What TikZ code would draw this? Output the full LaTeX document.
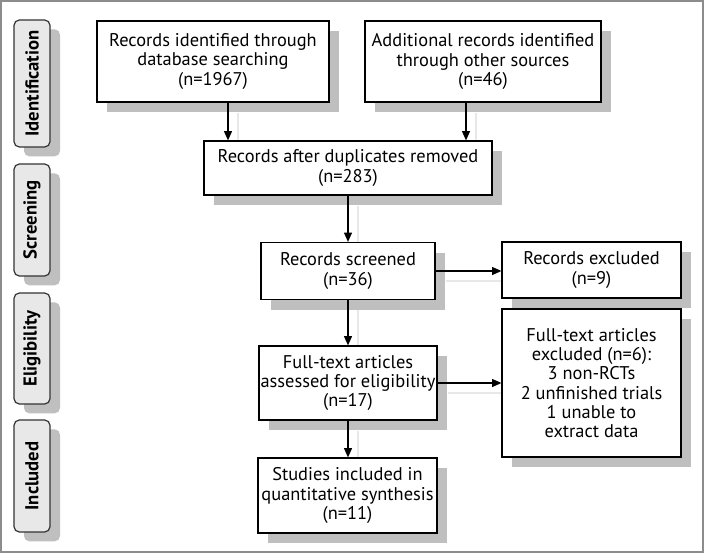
\documentclass[tikz,border=0pt]{standalone}
\usepackage{fontspec}
\setsansfont{PT Sans}
\usetikzlibrary{arrows.meta, shadows, calc}

\pgfdeclarelayer{background}
\pgfsetlayers{background,main}

\tikzset{
	box/.style={draw, fill=white, line width=0.9pt, align=center, inner sep=0pt,
		font=\sffamily\fontsize{13.8}{14.4}\selectfont,
		drop shadow={shadow xshift=7.5pt, shadow yshift=-7.5pt, fill=black!25, opacity=1}},
	phase/.style={draw=black!80, fill=black!9, rounded corners=4pt, line width=0.9pt,
		inner sep=0pt, minimum width=27pt, font=\sffamily\bfseries\fontsize{14}{15}\selectfont,
		drop shadow={shadow xshift=7.5pt, shadow yshift=-7pt, fill=black!25, opacity=1}},
	arr/.style={line width=0.9pt, -{Triangle[length=7pt, width=6pt]}},
	arrshadow/.style={arr, draw=black!9, fill=black!9},
}

% all connectors, drawn once as shadow and once in black
\newcommand{\flowlinks}[1]{
	\draw[#1] (dbout) -- (dbout |- dup.north);
	\draw[#1] (otherout) -- (otherout |- dup.north);
	\draw[#1] (dup.south) -- (screen.north);
	\draw[#1] (screen.east) -- (screen.east -| excl.west);
	\draw[#1] (screen.south) -- (full.north);
	\draw[#1] (full.east) -- (full.east -| fullexcl.west);
	\draw[#1] (full.south) -- (full.south |- incl.north);
}

\begin{document}
\begin{tikzpicture}[x=0.75pt, y=-0.75pt]

	\useasboundingbox (0,0) rectangle (704,553);
	\draw[black!45, line width=0.9pt] (1,1) rectangle (703,552);

	% phases on the left
	\node[phase, minimum height=95.25pt] (ident) at (32,83.5) {\rotatebox{90}{Identification}};
	\node[phase, minimum height=84pt] (screening) at (32,220) {\rotatebox{90}{Screening}};
	\node[phase, minimum height=83.25pt] (elig) at (32,348.5) {\rotatebox{90}{Eligibility}};
	\node[phase, minimum height=84pt] (included) at (32,476) {\rotatebox{90}{Included}};

	% flow boxes
	\node[box, minimum width=174pt, minimum height=60.75pt] (db) at (213,61.5)
		{Records identified through\\database searching\\(n=1967)};
	\node[box, minimum width=177pt, minimum height=60.75pt] (other) at (483,61.5)
		{Additional records identified\\through other sources\\(n=46)};
	\node[box, minimum width=216pt, minimum height=40.5pt] (dup) at (348,168)
		{Records after duplicates removed\\(n=283)};
	\node[box, minimum width=130.5pt, minimum height=42.75pt] (screen) at (348,271)
		{Records screened\\(n=36)};
	\node[box, minimum width=134.25pt, minimum height=42pt] (excl) at (591.5,270)
		{Records excluded\\(n=9)};
	\node[box, minimum width=133.5pt, minimum height=55.5pt] (full) at (348,383)
		{Full-text articles\\assessed for eligibility\\(n=17)};
	\node[box, minimum width=134.25pt, minimum height=111pt] (fullexcl) at (591.5,383)
		{Full-text articles\\excluded (n=6):\\3 non-RCTs\\2 unfinished trials\\1 unable to\\extract data};
	\node[box, minimum width=134.25pt, minimum height=56.25pt] (incl) at (347.5,495.5)
		{Studies included in\\quantitative synthesis\\(n=11)};

	\coordinate (dbout) at ($(db.south)+(15,0)$);
	\coordinate (otherout) at ($(other.south)+(-17,0)$);

	% faint shadows of the arrows
	\begin{pgfonlayer}{background}
		\begin{scope}[transform canvas={shift={(10,10)}}]
			\flowlinks{arrshadow}
		\end{scope}
	\end{pgfonlayer}

	\flowlinks{arr}

\end{tikzpicture}
\end{document}
